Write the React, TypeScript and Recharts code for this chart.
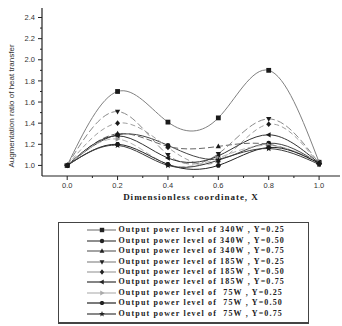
import { LineChart, Line, XAxis, YAxis, Legend } from "recharts";

// dimensionless coordinate X and augmentation ratio per case
const X_VALUES = [0, 0.2, 0.4, 0.6, 0.8, 1.0];
const P340_Y25 = [1.0, 1.7, 1.41, 1.45, 1.9, 1.03];
const P340_Y50 = [1.0, 1.29, 1.19, 1.06, 1.21, 1.02];
const P340_Y75 = [1.0, 1.3, 1.18, 1.18, 1.2, 1.03];
const P185_Y25 = [1.0, 1.51, 1.1, 1.11, 1.44, 1.02];
const P185_Y50 = [1.0, 1.4, 1.17, 1.04, 1.39, 1.01];
const P185_Y75 = [1.0, 1.28, 1.07, 1.09, 1.29, 1.02];
const P75_Y25 = [1.0, 1.25, 1.01, 1.07, 1.19, 1.03];
const P75_Y50 = [1.0, 1.2, 1.01, 1.0, 1.17, 1.02];
const P75_Y75 = [1.0, 1.19, 1.0, 1.05, 1.16, 1.01];

const X_TICKS = [0, 0.1, 0.2, 0.3, 0.4, 0.5, 0.6, 0.7, 0.8, 0.9, 1.0];
const Y_TICKS = [1.0, 1.1, 1.2, 1.3, 1.4, 1.5, 1.6, 1.7, 1.8, 1.9, 2.0, 2.1, 2.2, 2.3, 2.4];

const SERIES = [
  { key: "a", name: "Output power level of 340W , Y=0.25", values: P340_Y25, color: "#808080", dash: undefined, shape: "square" },
  { key: "b", name: "Output power level of 340W , Y=0.50", values: P340_Y50, color: "#444", dash: undefined, shape: "circle" },
  { key: "c", name: "Output power level of 340W , Y=0.75", values: P340_Y75, color: "#666", dash: "6 3", shape: "triUp" },
  { key: "d", name: "Output power level of 185W , Y=0.25", values: P185_Y25, color: "#8a8a8a", dash: "7 3", shape: "triDown" },
  { key: "e", name: "Output power level of 185W , Y=0.50", values: P185_Y50, color: "#a0a0a0", dash: "5 3", shape: "diamond" },
  { key: "f", name: "Output power level of 185W , Y=0.75", values: P185_Y75, color: "#333", dash: undefined, shape: "triLeft" },
  { key: "g", name: "Output power level of  75W , Y=0.25", values: P75_Y25, color: "#b5b5b5", dash: "6 3", shape: "triRight" },
  { key: "h", name: "Output power level of  75W , Y=0.50", values: P75_Y50, color: "#222", dash: undefined, shape: "hex" },
  { key: "i", name: "Output power level of  75W , Y=0.75", values: P75_Y75, color: "#3a3a3a", dash: undefined, shape: "star" },
];

const data = X_VALUES.map((x, i) => {
  const row: Record<string, number> = { x };
  SERIES.forEach((s) => (row[s.key] = s.values[i]));
  return row;
});

function marker(shape: string, cx: number, cy: number, r: number, fill: string, key?: string) {
  const poly = (pts: number[][]) => (
    <polygon key={key} points={pts.map((p) => `${cx + p[0]},${cy + p[1]}`).join(" ")} fill={fill} />
  );
  switch (shape) {
    case "square":
      return <rect key={key} x={cx - r} y={cy - r} width={r * 2} height={r * 2} fill={fill} />;
    case "circle":
      return <circle key={key} cx={cx} cy={cy} r={r} fill={fill} />;
    case "triUp":
      return poly([[0, -r * 1.2], [r * 1.1, r * 0.8], [-r * 1.1, r * 0.8]]);
    case "triDown":
      return poly([[0, r * 1.2], [r * 1.1, -r * 0.8], [-r * 1.1, -r * 0.8]]);
    case "triLeft":
      return poly([[-r * 1.2, 0], [r * 0.8, -r * 1.1], [r * 0.8, r * 1.1]]);
    case "triRight":
      return poly([[r * 1.2, 0], [-r * 0.8, -r * 1.1], [-r * 0.8, r * 1.1]]);
    case "diamond":
      return poly([[0, -r * 1.2], [r, 0], [0, r * 1.2], [-r, 0]]);
    case "hex":
      return poly([0, 1, 2, 3, 4, 5].map((k) => [r * 1.1 * Math.cos((k * Math.PI) / 3), r * 1.1 * Math.sin((k * Math.PI) / 3)]));
    default: {
      const pts: number[][] = [];
      for (let k = 0; k < 10; k++) {
        const rr = k % 2 === 0 ? r * 1.4 : r * 0.6;
        const a = -Math.PI / 2 + (k * Math.PI) / 5;
        pts.push([rr * Math.cos(a), rr * Math.sin(a)]);
      }
      return poly(pts);
    }
  }
}

function AxisTick(props: any) {
  const { x, y, payload, side } = props;
  const v = payload.value;
  const major = Math.round(v * 10) % 2 === 0;
  const len = major ? 4 : 2;
  const tickStyle = { fontFamily: '"Liberation Sans", Arial, sans-serif', fontSize: 7.5, fill: "#333" };
  if (side === "bottom")
    return (
      <g>
        <line x1={x} y1={y} x2={x} y2={y + len} stroke="#222" />
        {major && <text x={x} y={y + 12} textAnchor="middle" {...tickStyle}>{v.toFixed(1)}</text>}
      </g>
    );
  if (side === "left")
    return (
      <g>
        <line x1={x - len} y1={y} x2={x} y2={y} stroke="#222" />
        {major && <text x={x - 7} y={y + 2.6} textAnchor="end" {...tickStyle}>{v.toFixed(1)}</text>}
      </g>
    );
  if (side === "top") return <line x1={x} y1={y} x2={x} y2={y + len} stroke="#222" />;
  return <line x1={x - len} y1={y} x2={x} y2={y} stroke="#222" />;
}

const renderLegend = () => (
  <div
    style={{
      width: 251,
      height: 102,
      boxSizing: "border-box",
      border: "1.5px solid #444",
      borderBottomWidth: 2.5,
      padding: "2.3px 0 0 27.5px",
      fontFamily: '"Liberation Serif", "Times New Roman", serif',
      fontWeight: "bold",
      fontSize: 8,
      letterSpacing: 1.15,
      color: "#222",
    }}
  >
    {SERIES.map((s) => (
      <div key={s.key} style={{ height: 10.4, display: "flex", alignItems: "center", whiteSpace: "pre" }}>
        <svg width={31} height={10} style={{ display: "block" }}>
          <line x1={0} y1={5} x2={29} y2={5} stroke={s.color} strokeWidth={1.2} />
          {marker(s.shape, 15, 5, 2.2, s.shape === "triRight" ? "#aaa" : "#222")}
        </svg>
        <span style={{ lineHeight: "10px", marginLeft: 1 }}>{s.name}</span>
      </div>
    ))}
  </div>
);

const YLabel = () => (
  <text
    transform="translate(14, 106) rotate(-90)"
    textAnchor="middle"
    style={{ fontFamily: '"Liberation Sans", Arial, sans-serif', fontSize: 8, fill: "#333" }}
  >
    Augmentation ratio of heat transfer
  </text>
);

export default function App() {
  return (
    <div style={{ position: "absolute", left: 0, top: 0, width: 342, height: 326, background: "#fff" }}>
      <LineChart width={342} height={326} data={data} margin={{ top: 8, right: 2, left: 0, bottom: 120 }}>
        <XAxis
          dataKey="x"
          type="number"
          domain={[-0.1, 1.083]}
          ticks={X_TICKS}
          interval={0}
          height={30}
          tickSize={0}
          tickMargin={0}
          tickLine={false}
          axisLine={{ stroke: "#222", strokeWidth: 1.2 }}
          tick={(p: any) => <AxisTick {...p} side="bottom" />}
          label={{
            value: "Dimensionless coordinate, X",
            position: "insideBottom",
            offset: 6,
            style: { fontFamily: '"Liberation Serif", serif', fontWeight: "bold", fontSize: 9, letterSpacing: 1, fill: "#222" },
          }}
        />
        <XAxis
          xAxisId="t"
          orientation="top"
          dataKey="x"
          type="number"
          domain={[-0.1, 1.083]}
          ticks={X_TICKS}
          interval={0}
          height={0}
          tickSize={0}
          tickMargin={0}
          tickLine={false}
          axisLine={{ stroke: "#222", strokeWidth: 1.2 }}
          tick={(p: any) => <AxisTick {...p} side="top" />}
        />
        <YAxis
          type="number"
          domain={[0.9, 2.49]}
          ticks={Y_TICKS}
          interval={0}
          width={42}
          tickSize={0}
          tickMargin={0}
          tickLine={false}
          axisLine={{ stroke: "#222", strokeWidth: 1.2 }}
          tick={(p: any) => <AxisTick {...p} side="left" />}
          label={<YLabel />}
        />
        <YAxis
          yAxisId="r"
          orientation="right"
          type="number"
          domain={[0.9, 2.49]}
          ticks={Y_TICKS}
          interval={0}
          width={0}
          tickSize={0}
          tickMargin={0}
          tickLine={false}
          axisLine={{ stroke: "#222", strokeWidth: 1.2 }}
          tick={(p: any) => <AxisTick {...p} side="right" />}
        />
        <Legend
          layout="vertical"
          verticalAlign="middle"
          align="center"
          content={renderLegend}
          wrapperStyle={{ position: "absolute", left: 58, top: 222, width: 251, height: 102 }}
        />
        {SERIES.map((s) => (
          <Line
            key={s.key}
            dataKey={s.key}
            name={s.name}
            type="natural"
            stroke={s.color}
            strokeWidth={1}
            strokeDasharray={s.dash}
            isAnimationActive={false}
            dot={(p: any) => marker(s.shape, p.cx, p.cy, 2.4, s.shape === "triRight" ? "#999" : "#1a1a1a", `${s.key}-${p.index}`)}
            activeDot={false}
          />
        ))}
      </LineChart>
    </div>
  );
}
